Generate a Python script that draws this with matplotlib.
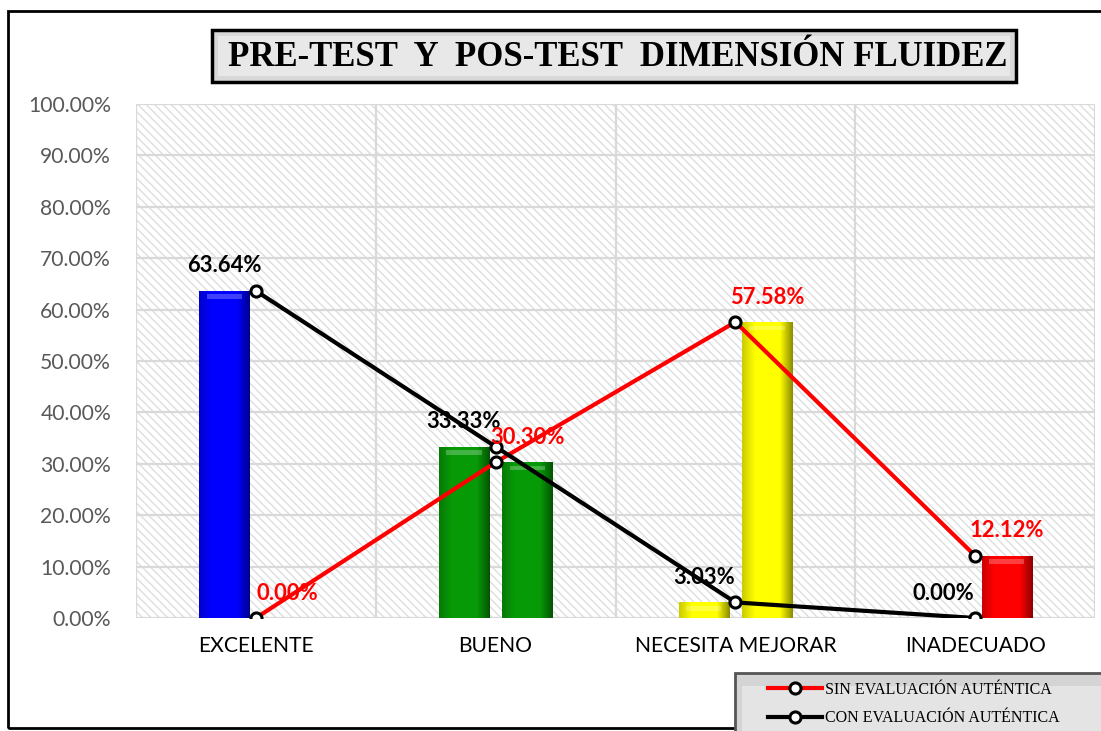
import numpy as np
import matplotlib
matplotlib.use("Agg")
import matplotlib.pyplot as plt
from matplotlib.patches import Rectangle
from matplotlib.colors import LinearSegmentedColormap, to_rgb

categories = ["EXCELENTE", "BUENO", "NECESITA MEJORAR", "INADECUADO"]
pre_values = [63.64, 33.33, 3.03, 0.00]     # CON EVALUACIÓN AUTÉNTICA (black line)
post_values = [0.00, 30.30, 57.58, 12.12]   # SIN EVALUACIÓN AUTÉNTICA (red line)
bar_colors = ["#0000FF", "#079A07", "#FFFF00", "#FF0000"]
yticks = [0, 10, 20, 30, 40, 50, 60, 70, 80, 90, 100]
title = "PRE-TEST  Y  POS-TEST  DIMENSIÓN FLUIDEZ"
legend_labels = ["SIN EVALUACIÓN AUTÉNTICA", "CON EVALUACIÓN AUTÉNTICA"]

plt.rcParams['hatch.linewidth'] = 1.0
plt.rcParams['hatch.color'] = '#dedede'

fig = plt.figure(figsize=(11.01, 7.31), dpi=100)
fig.patch.set_facecolor("white")
ax = fig.add_axes([136/1101, 1-618/731, (1095-136)/1101, (618-104)/731])

x = np.arange(len(categories))
off = 0.132
w = 0.21

# hatched background
ax.add_patch(Rectangle((0, 0), 1, 1, transform=ax.transAxes, facecolor="white",
                       edgecolor="#dedede", hatch="\\\\\\\\", lw=0, zorder=0))

# grid
for yv in yticks:
    ax.axhline(yv, color="#d9d9d9", lw=1.6, zorder=1)
for xv in np.arange(-0.5, len(categories), 1.0):
    ax.axvline(xv, color="#d9d9d9", lw=1.6, zorder=1)


def shade(color, f):
    r, g, b = to_rgb(color)
    return (r*f, g*f, b*f)


def draw_bars(xs, vals):
    bars = ax.bar(xs, vals, width=w, color=bar_colors, zorder=2, lw=0)
    for b, c in zip(bars, bar_colors):
        h = b.get_height()
        if h <= 0:
            continue
        cmap = LinearSegmentedColormap.from_list(
            "g", [shade(c, 0.8), c, c, c, shade(c, 0.55)])
        grad = np.linspace(0, 1, 64).reshape(1, -1)
        im = ax.imshow(grad, cmap=cmap, aspect="auto", zorder=2.1,
                       extent=[b.get_x(), b.get_x()+b.get_width(), 0, h],
                       interpolation="bilinear")
        im.set_clip_path(b)
        ax.add_patch(Rectangle((b.get_x()+b.get_width()*0.15, h-1.6),
                               b.get_width()*0.7, 0.9,
                               facecolor=(1, 1, 1, 0.25), lw=0, zorder=2.2))
    return bars


draw_bars(x - off, pre_values)
draw_bars(x + off, post_values)

# lines
ax.plot(x, post_values, color="#FF0000", lw=3, marker="o", ms=8, mfc="white",
        mec="black", mew=2.2, zorder=4, label=legend_labels[0])
ax.plot(x, pre_values, color="black", lw=3, marker="o", ms=8, mfc="white",
        mec="black", mew=2.2, zorder=4, label=legend_labels[1])

# data labels
for xi, v in zip(x - off, pre_values):
    ax.annotate(f"{v:.2f}%", (xi, v), xytext=(0, 18), textcoords="offset points",
                ha="center", va="center", fontsize=15.8, fontweight="bold",
                color="black", family="Lato", zorder=5)
for xi, v in zip(x + off, post_values):
    ax.annotate(f"{v:.2f}%", (xi, v), xytext=(0, 18), textcoords="offset points",
                ha="center", va="center", fontsize=15.8, fontweight="bold",
                color="#FF0000", family="Lato", zorder=5)

ax.set_xlim(-0.5, len(categories) - 0.5)
ax.set_ylim(0, 100)
ax.set_yticks(yticks)
ax.set_yticklabels([f"{v:.2f}%" for v in yticks], fontsize=15.2, color="#595959",
                   family="Lato")
ax.set_xticks(x)
ax.set_xticklabels(categories, fontsize=15.2, color="black", family="Lato")
ax.tick_params(length=0)
ax.tick_params(axis="x", pad=13)
ax.tick_params(axis="y", pad=18)
for s in ax.spines.values():
    s.set_visible(False)

# outer frame
fig.add_artist(Rectangle((8/1101, 3/731), 1.05, 1-14/731, transform=fig.transFigure,
                         fill=False, edgecolor="black", lw=2, zorder=0))

# title box
fig.add_artist(Rectangle((212/1101, 1-82/731), 804/1101, 52/731, transform=fig.transFigure,
                         facecolor="#d8d8d8", edgecolor="black", lw=2.5, zorder=5))
fig.add_artist(Rectangle((218/1101, 1-76/731), 792/1101, 40/731, transform=fig.transFigure,
                         facecolor="#e8e8e8", edgecolor="none", lw=0, zorder=5))
fig.text(618/1101, 1-58/731, title, ha="center", va="center", fontsize=25,
         fontweight="bold", family="Liberation Serif", color="black", zorder=6)

# legend box
fig.add_artist(Rectangle((735/1101, -0.01), 0.4, 58/731 + 0.01, transform=fig.transFigure,
                         facecolor="#d4d4d4", edgecolor="#555555", lw=2, zorder=5))
fig.add_artist(Rectangle((742/1101, -0.01), 0.4, 52/731, transform=fig.transFigure,
                         facecolor="#e4e4e4", edgecolor="none", lw=0, zorder=5))
handles, labels = ax.get_legend_handles_labels()
leg = fig.legend(handles, labels, loc="center left",
                 bbox_to_anchor=(768/1101, 1-704/731), frameon=False,
                 prop={"family": "Liberation Serif", "size": 11.5},
                 handlelength=3.4, handletextpad=0.15, labelspacing=0.8,
                 borderaxespad=0, borderpad=0)
leg.set_zorder(6)

fig.savefig("out.png", dpi=100)
